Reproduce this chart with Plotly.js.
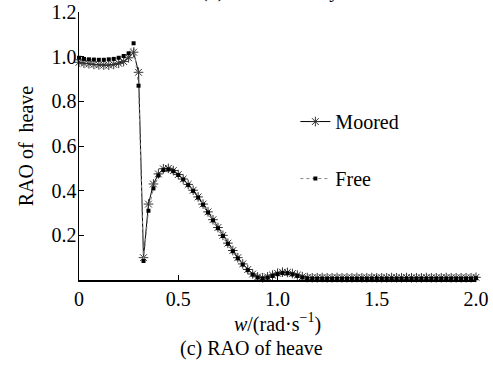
<!DOCTYPE html>
<html>
<head>
<meta charset="utf-8">
<script src="https://cdn.plot.ly/plotly-3.0.1.min.js"></script>
<style>html,body{margin:0;padding:0;background:#fff;}#chart{width:493px;height:367px;}</style>
</head>
<body>
<div id="chart"></div>
<script>
// frequency w (rad/s)
const omega = [0.000,0.025,0.050,0.075,0.100,0.125,0.150,0.175,0.200,0.225,
  0.250,0.275,0.300,0.325,0.350,0.375,0.400,0.425,0.450,0.475,
  0.500,0.525,0.550,0.575,0.600,0.625,0.650,0.675,0.700,0.725,
  0.750,0.775,0.800,0.825,0.850,0.875,0.900,0.925,0.950,0.975,
  1.000,1.025,1.050,1.075,1.100,1.125,1.150,1.175,1.200,1.225,
  1.250,1.275,1.300,1.325,1.350,1.375,1.400,1.425,1.450,1.475,
  1.500,1.525,1.550,1.575,1.600,1.625,1.650,1.675,1.700,1.725,
  1.750,1.775,1.800,1.825,1.850,1.875,1.900,1.925,1.950,1.975,2.000];
// RAO of heave, moored
const mooredRAO = [0.975,0.970,0.968,0.965,0.963,0.962,0.962,0.965,0.970,0.978,
  0.995,1.020,0.930,0.100,0.340,0.430,0.475,0.498,0.500,0.490,
  0.472,0.452,0.428,0.402,0.372,0.340,0.305,0.270,0.235,0.200,
  0.165,0.132,0.100,0.072,0.047,0.027,0.014,0.010,0.014,0.022,
  0.030,0.035,0.034,0.029,0.022,0.015,0.011,0.010,0.010,0.011,
  0.010,0.010,0.011,0.010,0.010,0.010,0.011,0.010,0.010,0.011,
  0.010,0.010,0.010,0.011,0.010,0.010,0.011,0.010,0.010,0.010,
  0.011,0.010,0.010,0.010,0.011,0.010,0.010,0.010,0.010,0.010,0.012];
// RAO of heave, free
const freeRAO = [0.995,0.990,0.988,0.987,0.986,0.986,0.988,0.990,0.995,1.003,
  1.015,1.060,0.870,0.085,0.310,0.410,0.468,0.492,0.495,0.487,
  0.470,0.450,0.425,0.399,0.369,0.337,0.302,0.267,0.232,0.197,
  0.162,0.129,0.097,0.069,0.044,0.024,0.011,0.006,0.010,0.018,
  0.026,0.031,0.030,0.025,0.018,0.011,0.007,0.006,0.006,0.006,
  0.006,0.006,0.006,0.006,0.006,0.006,0.006,0.006,0.006,0.006,
  0.006,0.006,0.006,0.006,0.006,0.006,0.006,0.006,0.006,0.006,
  0.006,0.006,0.006,0.006,0.006,0.006,0.006,0.006,0.006,0.006,0.008];
const seriesNames = ["Moored", "Free"];
const xTickVals = [0, 0.5, 1.0, 1.5, 2.0];
const xTickText = ["0", "0.5", "1.0", "1.5", "2.0"];
const yTickVals = [0.2, 0.4, 0.6, 0.8, 1.0, 1.2];
const yTickText = ["0.2", "0.4", "0.6", "0.8", "1.0", "1.2"];

const FONT = "Liberation Serif, Times New Roman, serif";

const traces = [
  {
    x: omega, y: mooredRAO, name: seriesNames[0], type: "scatter", mode: "lines+markers",
    legendgroup: "a",
    line: {color: "#000", width: 1},
    marker: {symbol: "asterisk-open", size: 8, color: "#333", line: {color: "#333", width: 1}},
    cliponaxis: false
  },
  {
    x: omega, y: freeRAO, name: seriesNames[1], type: "scatter", mode: "lines+markers",
    legendgroup: "b",
    line: {color: "#888", width: 1, dash: "dot"},
    marker: {symbol: "square", size: 4, color: "#000"},
    cliponaxis: false
  }
];

const layout = {
  width: 493, height: 367,
  margin: {l: 79, r: 17, t: 12, b: 87},
  paper_bgcolor: "#fff", plot_bgcolor: "#fff",
  font: {family: FONT, size: 20, color: "#000"},
  showlegend: true,
  legend: {
    x: 0.545, y: 0.664, xanchor: "left", yanchor: "top",
    bgcolor: "rgba(0,0,0,0)", borderwidth: 0,
    font: {family: FONT, size: 20, color: "#000"},
    tracegroupgap: 28, itemwidth: 30
  },
  xaxis: {
    range: [0, 2.0], tickvals: xTickVals, ticktext: xTickText,
    ticks: "inside", ticklen: 5, tickwidth: 1, tickcolor: "#000",
    showline: true, linecolor: "#000", linewidth: 1.5,
    showgrid: false, zeroline: false, mirror: false,
    tickfont: {family: FONT, size: 20},
    title: {text: "<i>w</i>/(rad·s<sup>−1</sup>)", font: {family: FONT, size: 20}, standoff: 8}
  },
  yaxis: {
    range: [0, 1.2], tickvals: yTickVals, ticktext: yTickText,
    ticks: "inside", ticklen: 5, tickwidth: 1, tickcolor: "#000",
    showline: true, linecolor: "#000", linewidth: 1.5,
    showgrid: false, zeroline: false, mirror: false,
    ticklabelstandoff: -3,
    tickfont: {family: FONT, size: 20},
    title: {text: "RAO of  heave", font: {family: FONT, size: 20}, standoff: 12}
  },
  annotations: [
    {text: "(c) RAO of heave", xref: "paper", yref: "paper", x: 0.435, y: -0.255,
     xanchor: "center", yanchor: "middle", showarrow: false, font: {family: FONT, size: 20}},
    {text: "(b) RAO of sway", xref: "paper", yref: "paper", x: 0.48, y: 1.08,
     xanchor: "center", yanchor: "middle", showarrow: false, font: {family: FONT, size: 20}}
  ]
};

Plotly.newPlot("chart", traces, layout, {displayModeBar: false, staticPlot: true});
</script>
</body>
</html>
